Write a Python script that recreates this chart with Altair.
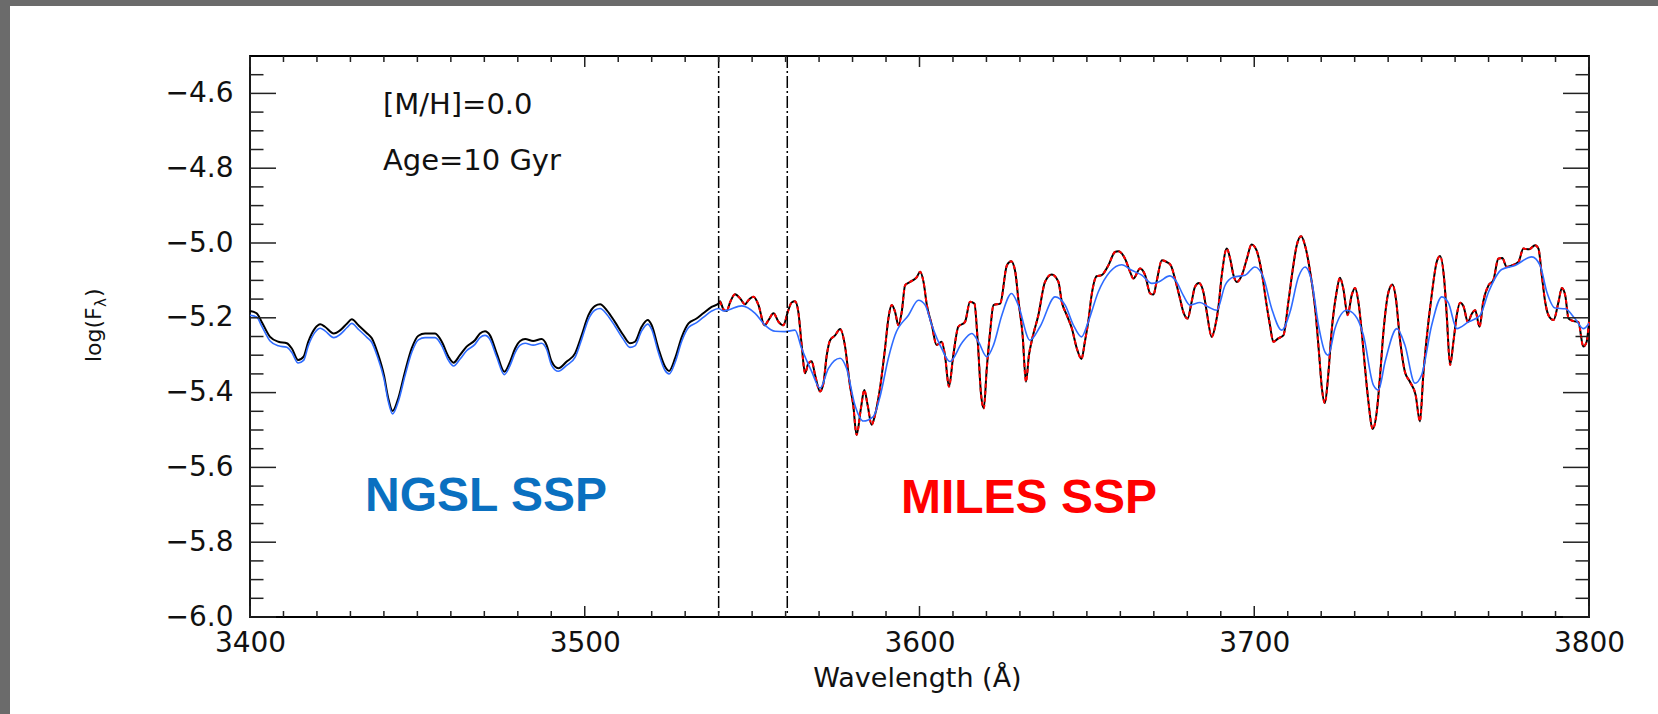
import altair as alt
import pandas as pd

# ---------------- data ----------------
# NGSL (black) spectrum, 3400-3540 A
ngsl_wave = [3400, 3402, 3403.5, 3406, 3408.5, 3411, 3412.5, 3414.4, 3416, 3417.4,
             3419.4, 3421, 3422.4, 3425, 3427, 3429, 3430.4, 3432.4, 3435, 3436.4,
             3438, 3440, 3441.3, 3442.6, 3444.3, 3446.3, 3448.3, 3450.3, 3452.3, 3455.3,
             3457.3, 3459.3, 3460.8, 3462.7, 3464.7, 3467.2, 3468.7, 3470.2, 3471.7, 3473.7,
             3476, 3477.7, 3479.2, 3480.7, 3482.2, 3484.6, 3487.1, 3488.6, 3490.1, 3492.1,
             3494.6, 3497.1, 3499.1, 3501.1, 3503.1, 3504.6, 3506.6, 3509, 3511.5, 3513.5,
             3515, 3517, 3518.8, 3520, 3522, 3524, 3525.2, 3527, 3529, 3531,
             3533.4, 3535.4, 3537.9, 3540]
ngsl_flux = [-5.182, -5.188, -5.211, -5.251, -5.264, -5.268, -5.282, -5.313, -5.304, -5.264,
             -5.228, -5.217, -5.224, -5.242, -5.233, -5.215, -5.204, -5.220, -5.242, -5.255,
             -5.291, -5.353, -5.415, -5.449, -5.415, -5.344, -5.282, -5.248, -5.242, -5.242,
             -5.264, -5.304, -5.320, -5.300, -5.277, -5.260, -5.242, -5.236, -5.247, -5.295,
             -5.344, -5.317, -5.282, -5.262, -5.257, -5.262, -5.257, -5.273, -5.317, -5.335,
             -5.317, -5.295, -5.246, -5.193, -5.168, -5.164, -5.180, -5.211, -5.246, -5.268,
             -5.264, -5.224, -5.206, -5.220, -5.282, -5.331, -5.342, -5.308, -5.251, -5.215,
             -5.202, -5.188, -5.171, -5.162]

# smoothed (blue) spectrum, 3400-3540 A (same wavelengths as above)
blue_left_flux = [-5.193, -5.198, -5.222, -5.262, -5.275, -5.279, -5.293, -5.321, -5.314, -5.275,
                  -5.239, -5.228, -5.235, -5.253, -5.244, -5.226, -5.215, -5.231, -5.253, -5.266,
                  -5.302, -5.362, -5.423, -5.457, -5.424, -5.355, -5.293, -5.259, -5.253, -5.253,
                  -5.275, -5.314, -5.329, -5.311, -5.288, -5.271, -5.253, -5.247, -5.258, -5.305,
                  -5.352, -5.327, -5.293, -5.273, -5.268, -5.273, -5.268, -5.284, -5.327, -5.343,
                  -5.327, -5.306, -5.257, -5.204, -5.179, -5.175, -5.191, -5.222, -5.257, -5.279,
                  -5.275, -5.235, -5.217, -5.231, -5.293, -5.341, -5.350, -5.319, -5.262, -5.226,
                  -5.213, -5.199, -5.182, -5.175]

# smoothed (blue) spectrum, 3540-3800 A
blue_right_wave = [3541.4, 3542.9, 3546.9, 3550.9, 3553.9, 3556.9, 3559.8, 3562.8, 3564.8, 3567.8,
                   3570.3, 3572.8, 3576.3, 3578.2, 3580.7, 3583.2, 3586.2, 3588.2, 3590.7, 3592.7,
                   3596.7, 3599.7, 3601.7, 3603.7, 3606.6, 3609.1, 3612.6, 3615.6, 3617.6, 3620.1,
                   3622.1, 3624.6, 3627.5, 3629.5, 3633.0, 3636.0, 3640.5, 3643.5, 3646.0, 3648.4,
                   3650.4, 3653.4, 3656.9, 3660.4, 3663.4, 3666.4, 3669.4, 3671.4, 3674.8, 3676.8,
                   3678.8, 3680.8, 3683.8, 3686.3, 3688.8, 3691.3, 3693.8, 3697.3, 3700.2, 3702.7,
                   3705.2, 3708.2, 3710.7, 3713.2, 3715.2, 3717.2, 3719.2, 3721.1, 3722.1, 3724.1,
                   3727.6, 3730.1, 3732.6, 3735.6, 3737.1, 3739.1, 3742.6, 3745.0, 3748.0, 3750.0,
                   3753.0, 3756.0, 3758.0, 3760.5, 3764.0, 3767.5, 3770.0, 3773.9, 3777.9, 3782.9,
                   3785.4, 3787.4, 3789.9, 3792.9, 3795.8, 3798.3, 3800.0]
blue_right_flux = [-5.182, -5.179, -5.168, -5.188, -5.220, -5.236, -5.237, -5.233, -5.282, -5.344,
                   -5.388, -5.335, -5.308, -5.335, -5.433, -5.476, -5.464, -5.411, -5.308, -5.246,
                   -5.193, -5.153, -5.166, -5.220, -5.282, -5.317, -5.268, -5.242, -5.264, -5.304,
                   -5.273, -5.193, -5.135, -5.166, -5.260, -5.224, -5.144, -5.166, -5.220, -5.251,
                   -5.211, -5.131, -5.077, -5.058, -5.073, -5.086, -5.108, -5.104, -5.088, -5.104,
                   -5.140, -5.166, -5.159, -5.171, -5.180, -5.113, -5.091, -5.086, -5.064, -5.091,
                   -5.175, -5.233, -5.184, -5.091, -5.064, -5.104, -5.220, -5.291, -5.300, -5.229,
                   -5.180, -5.193, -5.246, -5.380, -5.393, -5.317, -5.229, -5.273, -5.375, -5.353,
                   -5.220, -5.144, -5.160, -5.229, -5.211, -5.193, -5.131, -5.071, -5.060, -5.037,
                   -5.060, -5.131, -5.174, -5.176, -5.202, -5.229, -5.215]

# MILES (red) spectrum, 3540-3800 A
miles_wave = [3540.4, 3541.4, 3542.4, 3543.4, 3544.9, 3546.4, 3547.9, 3548.9, 3550.4, 3551.9,
              3553.7, 3554.9, 3556.4, 3557.9, 3559.3, 3560.8, 3561.8, 3562.8, 3563.8, 3564.8,
              3565.8, 3566.8, 3567.8, 3568.8, 3570.3, 3571.3, 3572.3, 3573.3, 3574.8, 3576.3,
              3577.7, 3579.2, 3580.2, 3581.2, 3582.5, 3583.5, 3584.5, 3585.7, 3586.7, 3588.2,
              3589.7, 3590.7, 3591.7, 3592.7, 3593.7, 3594.7, 3595.7, 3597.2, 3599.2, 3600.2,
              3601.2, 3602.2, 3603.7, 3605.1, 3606.6, 3607.6, 3608.8, 3610.1, 3611.6, 3613.6,
              3615.1, 3616.4, 3617.4, 3618.4, 3619.2, 3620.1, 3621.1, 3622.1, 3624.1, 3626.1,
              3627.4, 3628.6, 3629.6, 3630.8, 3631.8, 3632.7, 3633.7, 3635.5, 3637.5, 3639.5,
              3641.5, 3642.5, 3644.0, 3645.5, 3647.0, 3648.4, 3649.4, 3650.4, 3651.4, 3652.9,
              3654.4, 3656.4, 3658.4, 3659.4, 3661.4, 3662.9, 3663.9, 3665.9, 3667.4, 3668.9,
              3669.9, 3670.9, 3672.4, 3673.9, 3675.1, 3676.3, 3677.8, 3678.8, 3680.1, 3681.3,
              3682.3, 3683.5, 3684.8, 3685.8, 3687.3, 3688.3, 3689.3, 3690.3, 3691.8, 3692.8,
              3693.8, 3694.8, 3696.3, 3697.8, 3699.2, 3700.7, 3702.2, 3703.7, 3704.7, 3705.7,
              3707.2, 3708.7, 3710.2, 3711.4, 3712.7, 3714.0, 3715.4, 3716.7, 3718.2, 3719.4,
              3720.2, 3721.1, 3722.1, 3723.1, 3724.6, 3725.6, 3726.6, 3727.9, 3729.1, 3730.1,
              3731.1, 3732.1, 3733.1, 3734.1, 3735.4, 3736.6, 3737.6, 3738.6, 3740.1, 3741.3,
              3742.3, 3743.5, 3745.0, 3746.5, 3748.2, 3749.5, 3750.5, 3751.5, 3753.0, 3754.5,
              3755.5, 3756.8, 3757.5, 3758.5, 3759.5, 3760.5, 3761.5, 3762.5, 3763.8, 3765.0,
              3766.0, 3767.3, 3768.4, 3770.0, 3771.4, 3772.9, 3774.1, 3775.4, 3776.9, 3778.9,
              3780.4, 3782.1, 3783.9, 3784.9, 3785.9, 3786.9, 3787.9, 3789.4, 3790.9, 3791.9,
              3792.9, 3793.9, 3795.4, 3796.8, 3798.3, 3799.3, 3800.0]
miles_flux = [-5.156, -5.177, -5.182, -5.159, -5.137, -5.148, -5.164, -5.153, -5.144, -5.166,
              -5.220, -5.206, -5.188, -5.211, -5.220, -5.180, -5.159, -5.156, -5.184, -5.273,
              -5.348, -5.322, -5.316, -5.353, -5.397, -5.375, -5.300, -5.260, -5.247, -5.230,
              -5.273, -5.380, -5.433, -5.513, -5.442, -5.393, -5.433, -5.486, -5.460, -5.388,
              -5.282, -5.202, -5.166, -5.184, -5.220, -5.184, -5.113, -5.104, -5.091, -5.077,
              -5.104, -5.166, -5.220, -5.273, -5.264, -5.300, -5.384, -5.300, -5.224, -5.211,
              -5.157, -5.162, -5.264, -5.406, -5.442, -5.335, -5.237, -5.166, -5.162, -5.060,
              -5.049, -5.077, -5.157, -5.246, -5.371, -5.300, -5.255, -5.193, -5.104, -5.084,
              -5.104, -5.157, -5.193, -5.228, -5.282, -5.310, -5.264, -5.211, -5.140, -5.089,
              -5.086, -5.060, -5.024, -5.022, -5.042, -5.077, -5.095, -5.068, -5.086, -5.135,
              -5.138, -5.100, -5.046, -5.051, -5.060, -5.095, -5.148, -5.184, -5.202, -5.157,
              -5.117, -5.107, -5.131, -5.184, -5.251, -5.224, -5.171, -5.086, -5.015, -5.042,
              -5.086, -5.104, -5.086, -5.042, -5.004, -5.020, -5.077, -5.166, -5.220, -5.264,
              -5.255, -5.247, -5.157, -5.077, -5.006, -4.982, -5.015, -5.077, -5.175, -5.300,
              -5.388, -5.428, -5.353, -5.237, -5.131, -5.093, -5.122, -5.193, -5.140, -5.120,
              -5.157, -5.237, -5.335, -5.424, -5.497, -5.451, -5.353, -5.237, -5.131, -5.111,
              -5.148, -5.255, -5.344, -5.371, -5.406, -5.477, -5.353, -5.255, -5.140, -5.051,
              -5.035, -5.104, -5.193, -5.326, -5.264, -5.193, -5.160, -5.169, -5.211, -5.189,
              -5.180, -5.224, -5.157, -5.113, -5.100, -5.042, -5.040, -5.064, -5.060, -5.051,
              -5.015, -5.017, -5.006, -5.015, -5.086, -5.157, -5.193, -5.206, -5.157, -5.120,
              -5.140, -5.202, -5.209, -5.211, -5.277, -5.264, -5.211]

# vertical dash-dot markers
marker_wave = [3540, 3560.5]

# axis ticks
x_major = [3400, 3500, 3600, 3700, 3800]
x_minor = [3410, 3420, 3430, 3440, 3450, 3460, 3470, 3480, 3490,
           3510, 3520, 3530, 3540, 3550, 3560, 3570, 3580, 3590,
           3610, 3620, 3630, 3640, 3650, 3660, 3670, 3680, 3690,
           3710, 3720, 3730, 3740, 3750, 3760, 3770, 3780, 3790]
y_major = [-6.0, -5.8, -5.6, -5.4, -5.2, -5.0, -4.8, -4.6]
y_minor = [-5.95, -5.9, -5.85, -5.75, -5.7, -5.65, -5.55, -5.5, -5.45,
           -5.35, -5.3, -5.25, -5.15, -5.1, -5.05, -4.95, -4.9, -4.85,
           -4.75, -4.7, -4.65, -4.55]

# annotations
note_text = ["[M/H]=0.0", "Age=10 Gyr"]
note_wave = [3439.7, 3439.7]
note_flux = [-4.631, -4.781]
label_text = ["NGSL SSP", "MILES SSP"]
label_wave = [3470.5, 3632.7]
label_flux = [-5.679, -5.684]
label_color = ["#0a70c0", "#ff0000"]
ytitle_parts = ["log(F", "λ", ")"]

# ---------------- chart ----------------
W, H = 1339, 561
FONT = "DejaVu Sans"
xs = alt.Scale(domain=[3400, 3800], nice=False, zero=False)
ys = alt.Scale(domain=[-6.0, -4.5], nice=False, zero=False)

black_df = pd.DataFrame({"w": ngsl_wave + miles_wave, "f": ngsl_flux + miles_flux})
blue_df = pd.DataFrame({"w": ngsl_wave + blue_right_wave, "f": blue_left_flux + blue_right_flux})
red_df = pd.DataFrame({"w": miles_wave, "f": miles_flux})

xaxis = alt.Axis(values=x_major, format="d", ticks=False, domain=False, grid=False,
                 labelFontSize=28, labelFont=FONT, labelColor="#111", labelPadding=12,
                 labelFlush=False,
                 title="Wavelength (Å)", titleFontSize=27, titleFont=FONT,
                 titleFontWeight="normal", titleColor="#111",
                 titleX=667, titleY=61, titleBaseline="middle", titleAlign="center")
yaxis = alt.Axis(values=y_major, format=".1f", ticks=False, domain=False, grid=False,
                 labelFontSize=28, labelFont=FONT, labelColor="#111", labelPadding=17,
                 labelFlush=False, title=None)

X = alt.X("w:Q", scale=xs, axis=xaxis)
Y = alt.Y("f:Q", scale=ys, axis=yaxis)

black = alt.Chart(black_df).mark_line(color="black", strokeWidth=2.0,
                                      interpolate="monotone").encode(x=X, y=Y, order="w:Q")
red = alt.Chart(red_df).mark_line(color="#ff0000", strokeWidth=2.0, strokeDash=[4, 3],
                                  interpolate="monotone").encode(x=X, y=Y, order="w:Q")
blue = alt.Chart(blue_df).mark_line(color="#2f6cff", strokeWidth=1.6,
                                    interpolate="monotone").encode(x=X, y=Y, order="w:Q")

vlines = alt.Chart(pd.DataFrame({"w": marker_wave})).mark_rule(
    color="black", strokeWidth=1.5, strokeDash=[12, 3, 2, 3]).encode(
    x=X, y=alt.value(0), y2=alt.value(H))

TICK = dict(color="#222", strokeWidth=1.5)
xmaj = pd.DataFrame({"w": x_major})
xmin = pd.DataFrame({"w": x_minor})
ymaj = pd.DataFrame({"f": y_major})
ymin = pd.DataFrame({"f": y_minor})

def xt(df, y0, y1):
    return alt.Chart(df).mark_rule(**TICK).encode(x=X, y=alt.value(y0), y2=alt.value(y1))

def yt(df, x0, x1):
    return alt.Chart(df).mark_rule(**TICK).encode(y=Y, x=alt.value(x0), x2=alt.value(x1))

ticks = [
    xt(xmaj, H, H - 11), xt(xmaj, 0, 11), xt(xmin, H, H - 6), xt(xmin, 0, 6),
    yt(ymaj, 0, 26), yt(ymaj, W, W - 26), yt(ymin, 0, 13.5), yt(ymin, W, W - 13.5),
]

notes = alt.Chart(pd.DataFrame({"t": note_text, "w": note_wave, "f": note_flux})).mark_text(
    align="left", baseline="middle", font=FONT, fontSize=29, color="#111").encode(
    x=X, y=Y, text="t:N")

labels = alt.Chart(pd.DataFrame({"t": label_text, "w": label_wave, "f": label_flux,
                                 "c": label_color})).mark_text(
    align="center", baseline="middle", font="Liberation Sans", fontSize=48,
    fontWeight="bold").encode(
    x=X, y=Y, text="t:N", color=alt.Color("c:N", scale=None))

# rotated y-axis title with a subscript lambda
one = alt.Data(values=[{"a": 1}])
yt1 = alt.Chart(one).mark_text(angle=270, align="left", baseline="middle", font=FONT,
                               fontSize=22, color="#111", text=ytitle_parts[0]).encode(
    x=alt.value(-156), y=alt.value(306))
yt2 = alt.Chart(one).mark_text(angle=270, align="left", baseline="middle", font=FONT,
                               fontSize=15, color="#111", text=ytitle_parts[1]).encode(
    x=alt.value(-149), y=alt.value(251))
yt3 = alt.Chart(one).mark_text(angle=270, align="left", baseline="middle", font=FONT,
                               fontSize=22, color="#111", text=ytitle_parts[2]).encode(
    x=alt.value(-156), y=alt.value(241))

frame_left = alt.Chart(one).mark_rect(color="#6b6b6b").encode(
    x=alt.value(-250), x2=alt.value(-240), y=alt.value(-56), y2=alt.value(H + 97))
frame_top = alt.Chart(one).mark_rect(color="#6b6b6b").encode(
    x=alt.value(-250), x2=alt.value(W + 69), y=alt.value(-56), y2=alt.value(-50))

chart = alt.layer(
    black, red, blue, vlines, *ticks, notes, labels, yt1, yt2, yt3, frame_left, frame_top
).properties(
    width=W, height=H,
    autosize=alt.AutoSizeParams(type="none"),
    padding={"left": 250, "top": 56, "right": 69, "bottom": 97},
    background="white",
).configure_view(stroke="black", strokeWidth=1.8)

chart.save("out.html", embed_options={"renderer": "svg", "actions": False})
